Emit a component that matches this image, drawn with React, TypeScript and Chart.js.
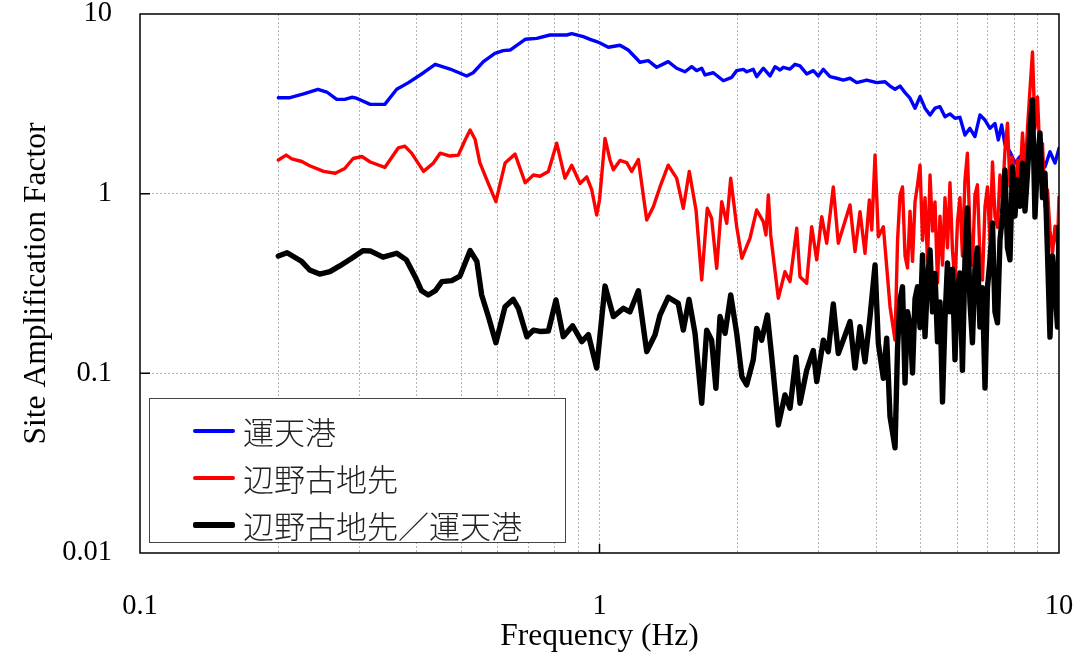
import React, { useEffect, useRef } from "react";
import { Chart, registerables } from "chart.js";

Chart.register(...registerables);

// ---- data ----
const seriesNames = ["運天港", "辺野古地先", "辺野古地先／運天港"];
const seriesColors = ["#0000ff", "#ff0000", "#000000"];
const seriesWidths = [3.4, 3.4, 5.4];

const xTickLabels = [0.1, 1, 10];
const yTickLabels = [0.01, 0.1, 1, 10];

const freqBlue = [
  0.2, 0.212, 0.227, 0.244, 0.255, 0.268, 0.279, 0.289, 0.296, 0.317, 0.341, 0.362, 0.384, 0.414, 0.439,
  0.473, 0.514, 0.531, 0.559, 0.592, 0.617, 0.639, 0.689, 0.73, 0.78, 0.849, 0.87, 0.922, 0.954, 0.986,
  1.0, 1.045, 1.108, 1.155, 1.225, 1.277, 1.332, 1.411, 1.472, 1.535, 1.587, 1.627, 1.669, 1.697, 1.769,
  1.86, 1.94, 1.989, 2.056, 2.091, 2.161, 2.198, 2.272, 2.35, 2.41, 2.471, 2.512, 2.598, 2.664, 2.731,
  2.824, 2.919, 2.994, 3.07, 3.174, 3.283, 3.393, 3.509, 3.628, 3.815, 4.012, 4.182, 4.288, 4.397, 4.508,
  4.623, 4.74, 4.86, 4.984, 5.11, 5.24, 5.372, 5.508, 5.648, 5.791, 5.938, 6.087, 6.242, 6.4, 6.562,
  6.729, 6.902, 7.076, 7.255, 7.377, 7.503, 7.629, 7.822, 8.02, 8.224, 8.433, 8.646, 8.866, 9.092, 9.322,
  9.559, 9.802, 10,
];
const ampBlue = [
  3.42, 3.42, 3.59, 3.81, 3.68, 3.35, 3.35, 3.44, 3.4, 3.14, 3.14, 3.81, 4.15, 4.71, 5.25,
  4.94, 4.52, 4.71, 5.43, 6.04, 6.25, 6.3, 7.23, 7.32, 7.64, 7.64, 7.77, 7.48, 7.23, 7.01,
  6.92, 6.53, 6.7, 6.3, 5.39, 5.5, 5.05, 5.43, 4.99, 4.77, 5.09, 4.84, 4.99, 4.58, 4.71,
  4.25, 4.44, 4.84, 4.92, 4.77, 4.92, 4.48, 4.99, 4.52, 5.09, 4.88, 5.05, 4.94, 5.25, 5.14,
  4.64, 4.84, 4.52, 4.92, 4.48, 4.39, 4.29, 4.39, 4.15, 4.29, 4.15, 4.2, 3.97, 3.81, 3.97,
  3.65, 3.4, 2.99, 3.47, 2.99, 2.74, 2.99, 3.05, 2.68, 2.78, 2.63, 2.66, 2.12, 2.31, 2.08,
  2.74, 2.57, 2.31, 2.46, 1.99, 2.41, 1.87, 1.71, 1.48, 1.61, 1.44, 1.71, 1.54, 1.64, 1.41,
  1.71, 1.48, 1.79,
];

// red and ratio series below 4.4 Hz
const freqRedLow = [
  0.2, 0.208, 0.214, 0.225, 0.234, 0.251, 0.266, 0.279, 0.291, 0.304, 0.317, 0.341, 0.365, 0.377, 0.39,
  0.414, 0.435, 0.45, 0.473, 0.493, 0.51, 0.523, 0.536, 0.549, 0.568, 0.595, 0.623, 0.655, 0.689, 0.718,
  0.742, 0.774, 0.807, 0.841, 0.87, 0.907, 0.938, 0.962, 0.986, 1.0, 1.028, 1.054, 1.072, 1.108, 1.146,
  1.175, 1.215, 1.267, 1.31, 1.354, 1.411, 1.472, 1.522, 1.568, 1.622, 1.669, 1.716, 1.754, 1.799, 1.845,
  1.892, 1.93, 1.989, 2.041, 2.126, 2.198, 2.272, 2.303, 2.33, 2.358, 2.45, 2.533, 2.598, 2.687, 2.731,
  2.824, 2.896, 2.97, 3.045, 3.122, 3.227, 3.309, 3.393, 3.509, 3.598, 3.689, 3.783, 3.866, 3.913, 3.978,
  4.044, 4.147, 4.288,
];
const ampRedLow = [
  1.54, 1.64, 1.56, 1.51, 1.43, 1.33, 1.3, 1.38, 1.57, 1.61, 1.5, 1.4, 1.8, 1.84, 1.68,
  1.33, 1.48, 1.68, 1.62, 1.64, 1.99, 2.26, 2.01, 1.49, 1.2, 0.903, 1.48, 1.66, 1.15, 1.27,
  1.25, 1.33, 1.91, 1.22, 1.44, 1.14, 1.24, 1.05, 0.761, 0.922, 2.03, 1.54, 1.36, 1.53, 1.49,
  1.33, 1.55, 0.714, 0.847, 1.09, 1.44, 1.22, 0.829, 1.33, 0.811, 0.331, 0.829, 0.73, 0.384, 0.903,
  0.684, 1.22, 0.655, 0.437, 0.565, 0.811, 0.699, 0.589, 0.983, 0.589, 0.262, 0.368, 0.324, 0.642, 0.345,
  0.317, 0.655, 0.428, 0.745, 0.53, 1.09, 0.53, 0.655, 0.865, 0.476, 0.794, 0.466, 0.922, 0.628, 1.64,
  0.576, 0.655, 0.235,
];

const freqRatioLow = [
  0.2, 0.209, 0.225, 0.234, 0.246, 0.259, 0.272, 0.289, 0.306, 0.317, 0.338, 0.362, 0.38, 0.397, 0.41,
  0.424, 0.439, 0.454, 0.477, 0.497, 0.523, 0.541, 0.554, 0.573, 0.595, 0.623, 0.649, 0.666, 0.695, 0.718,
  0.742, 0.774, 0.804, 0.834, 0.874, 0.915, 0.946, 0.986, 1.028, 1.072, 1.127, 1.165, 1.215, 1.267, 1.321,
  1.354, 1.411, 1.484, 1.522, 1.566, 1.614, 1.669, 1.711, 1.754, 1.792, 1.829, 1.876, 1.93, 1.989, 2.041,
  2.091, 2.161, 2.198, 2.254, 2.319, 2.37, 2.45, 2.533, 2.598, 2.677, 2.731, 2.824, 2.919, 2.97, 3.07,
  3.147, 3.227, 3.309, 3.393, 3.509, 3.598, 3.689, 3.783, 3.88, 3.978, 4.044, 4.147, 4.217, 4.288,
];
const ampRatioLow = [
  0.45, 0.469, 0.419, 0.376, 0.357, 0.368, 0.396, 0.437, 0.482, 0.48, 0.443, 0.466, 0.428, 0.345, 0.288,
  0.273, 0.288, 0.324, 0.328, 0.348, 0.482, 0.419, 0.273, 0.207, 0.148, 0.235, 0.258, 0.23, 0.16, 0.174,
  0.171, 0.172, 0.256, 0.16, 0.184, 0.15, 0.164, 0.107, 0.306, 0.207, 0.23, 0.22, 0.288, 0.132, 0.164,
  0.211, 0.265, 0.245, 0.174, 0.258, 0.167, 0.0682, 0.174, 0.153, 0.0826, 0.207, 0.167, 0.273, 0.167, 0.0958,
  0.0862, 0.119, 0.178, 0.153, 0.211, 0.124, 0.0516, 0.0758, 0.0639, 0.123, 0.0682, 0.104, 0.134, 0.0899, 0.153,
  0.132, 0.243, 0.129, 0.153, 0.194, 0.107, 0.182, 0.116, 0.207, 0.401, 0.147, 0.0939, 0.157, 0.0574,
];

// dense high-frequency part (4.4 – 10 Hz), shared by red and ratio series
const freqHigh = [
  4.397, 4.453, 4.508, 4.565, 4.623, 4.681, 4.74, 4.8, 4.86, 4.922, 4.984, 5.047, 5.11, 5.175, 5.24,
  5.306, 5.372, 5.44, 5.508, 5.578, 5.648, 5.719, 5.791, 5.864, 5.938, 6.013, 6.087, 6.164, 6.242, 6.32,
  6.4, 6.481, 6.562, 6.645, 6.729, 6.814, 6.902, 6.988, 7.076, 7.166, 7.255, 7.347, 7.44, 7.534, 7.629,
  7.725, 7.822, 7.921, 8.02, 8.122, 8.224, 8.328, 8.433, 8.539, 8.646, 8.756, 8.866, 8.978, 9.092, 9.206,
  9.322, 9.44, 9.559, 9.68, 9.802, 9.925, 10,
];
const ampRedHigh = [
  0.153, 0.55, 0.98, 1.09, 0.45, 0.386, 0.8, 0.42, 0.9, 1.12, 1.44, 0.55, 0.95, 0.42, 1.27,
  0.62, 0.9, 0.319, 0.75, 0.4, 0.95, 0.5, 1.15, 0.48, 0.319, 0.7, 0.95, 0.45, 1.19, 1.68,
  0.6, 0.4, 0.98, 1.12, 0.45, 0.331, 0.85, 1.09, 0.55, 1.5, 0.75, 0.65, 1.27, 0.95, 1.75,
  2.47, 1.1, 1.6, 0.95, 1.54, 1.2, 2.18, 1.3, 2.3, 3.78, 6.14, 2.3, 3.45, 1.6, 1.9,
  0.85, 1.05, 0.62, 0.468, 0.66, 0.52, 0.959,
];
const ampRatioHigh = [
  0.0385, 0.14, 0.256, 0.303, 0.0884, 0.22, 0.186, 0.1005, 0.26, 0.303, 0.18, 0.456, 0.16, 0.33, 0.486,
  0.22, 0.36, 0.15, 0.25, 0.0693, 0.2, 0.412, 0.22, 0.38, 0.119, 0.3, 0.362, 0.104, 0.428, 0.833,
  0.25, 0.148, 0.38, 0.499, 0.181, 0.3, 0.0829, 0.3, 0.428, 0.687, 0.22, 0.191, 0.55, 0.761, 1.355,
  0.5, 0.428, 1.41, 0.75, 1.2, 0.85, 1.48, 0.8, 1.3, 2.26, 3.32, 0.742, 1.54, 2.18, 0.95,
  1.3, 0.468, 0.159, 0.45, 0.3, 0.181, 0.653,
];

const SERIF = "'Liberation Serif', 'Times New Roman', serif";
const CJK = "'Noto Sans CJK JP', 'Noto Sans CJK SC', sans-serif";

const isPow10 = (v: number) => Math.abs(Math.log10(v) - Math.round(Math.log10(v))) < 1e-6;
const isIntMultiple = (v: number) => {
  const m = v / Math.pow(10, Math.floor(Math.log10(v) + 1e-9));
  return Math.abs(m - Math.round(m)) < 1e-6;
};

const zeroPad = (s: any) => {
  s.paddingTop = 0;
  s.paddingBottom = 0;
  s.paddingLeft = 0;
  s.paddingRight = 0;
};

const framePlugin = {
  id: "frame",
  afterDraw(chart: any) {
    const { ctx, chartArea: a, scales } = chart;
    ctx.save();
    ctx.strokeStyle = "#000";
    ctx.lineWidth = 1.5;
    ctx.strokeRect(a.left, a.top, a.right - a.left, a.bottom - a.top);
    ctx.beginPath();
    yTickLabels.forEach((v) => {
      const y = scales.y.getPixelForValue(v);
      if (y > a.top + 1 && y < a.bottom - 1) {
        ctx.moveTo(a.left, y);
        ctx.lineTo(a.left + 10, y);
      }
    });
    xTickLabels.forEach((v) => {
      const x = scales.x.getPixelForValue(v);
      if (x > a.left + 1 && x < a.right - 1) {
        ctx.moveTo(x, a.bottom);
        ctx.lineTo(x, a.bottom - 9);
      }
    });
    ctx.stroke();
    ctx.restore();
  },
};

export default function App() {
  const ref = useRef<HTMLCanvasElement | null>(null);

  useEffect(() => {
    if (!ref.current) return;
    const mk = (fs: number[], as: number[]) => fs.map((f, i) => ({ x: f, y: as[i] }));
    const series = [
      mk(freqBlue, ampBlue),
      mk([...freqRedLow, ...freqHigh], [...ampRedLow, ...ampRedHigh]),
      mk([...freqRatioLow, ...freqHigh], [...ampRatioLow, ...ampRatioHigh]),
    ];
    const datasets = series.map((d, i) => ({
      label: seriesNames[i],
      data: d,
      borderColor: seriesColors[i],
      backgroundColor: seriesColors[i],
      borderWidth: seriesWidths[i],
      pointRadius: 0,
      tension: 0,
      borderJoinStyle: "round" as const,
      borderCapStyle: "round" as const,
      order: 3 - i,
    }));

    const chart = new Chart(ref.current, {
      type: "line",
      data: { datasets },
      plugins: [framePlugin],
      options: {
        animation: false,
        responsive: false,
        layout: { padding: { left: 0, top: 14, right: 19, bottom: 0 }, autoPadding: false },
        plugins: { legend: { display: false }, tooltip: { enabled: false } },
        scales: {
          x: {
            type: "logarithmic",
            min: 0.1,
            max: 10,
            afterFit: (s: any) => {
              s.height = 107;
              zeroPad(s);
            },
            grid: {
              drawTicks: false,
              lineWidth: 1,
              color: (c: any) => {
                const v = c.tick && c.tick.value;
                if (!v || (isPow10(v) && (v <= 0.1 || v >= 10))) return "rgba(0,0,0,0)";
                return isIntMultiple(v) ? "#b4b4b4" : "rgba(0,0,0,0)";
              },
            },
            border: { display: false, dash: [2, 2] },
            ticks: {
              autoSkip: false,
              maxRotation: 0,
              padding: 36,
              color: "#000",
              font: { family: SERIF, size: 28.5 },
              callback: (v: any) => (xTickLabels.some((t) => Math.abs(t - Number(v)) < 1e-9) ? String(v) : ""),
            },
            title: {
              display: true,
              text: "Frequency (Hz)",
              color: "#000",
              font: { family: SERIF, size: 31.5 },
              padding: { top: 0, bottom: 4 },
            },
          },
          y: {
            type: "logarithmic",
            min: 0.01,
            max: 10,
            afterFit: (s: any) => {
              s.width = 140;
              zeroPad(s);
            },
            grid: {
              drawTicks: false,
              lineWidth: 1,
              color: (c: any) => {
                const v = c.tick && c.tick.value;
                if (!v) return "rgba(0,0,0,0)";
                return isPow10(v) && v > 0.01 && v < 10 ? "#b4b4b4" : "rgba(0,0,0,0)";
              },
            },
            border: { display: false, dash: [2, 2] },
            ticks: {
              autoSkip: false,
              padding: 28,
              color: "#000",
              font: { family: SERIF, size: 28.5 },
              callback: (v: any) => (yTickLabels.some((t) => Math.abs(t - Number(v)) < 1e-12) ? String(v) : ""),
            },
            title: {
              display: true,
              text: "Site Amplification Factor",
              color: "#000",
              font: { family: SERIF, size: 31.5 },
              padding: { top: 18, bottom: 0 },
            },
          },
        },
      },
    } as any);
    return () => chart.destroy();
  }, []);

  const legendTops = [431, 478, 525];

  return (
    <div style={{ position: "absolute", left: 0, top: 0, width: 1078, height: 660, background: "#fff" }}>
      <canvas ref={ref} width={1078} height={660} style={{ display: "block" }} />
      <div
        style={{
          position: "absolute",
          left: 149,
          top: 398,
          width: 417,
          height: 145,
          boxSizing: "border-box",
          border: "1.5px solid #444",
          background: "#fff",
        }}
      />
      {seriesNames.map((name, i) => (
        <React.Fragment key={name}>
          <div
            style={{
              position: "absolute",
              left: 193,
              width: 42,
              top: legendTops[i] - seriesWidths[i] / 2,
              height: seriesWidths[i],
              background: seriesColors[i],
              borderRadius: 2,
            }}
          />
          <div
            style={{
              position: "absolute",
              left: 243,
              top: legendTops[i] - 22,
              height: 44,
              lineHeight: "44px",
              fontFamily: CJK,
              fontSize: 31,
              fontWeight: 300,
              color: "#222",
              whiteSpace: "nowrap",
            }}
          >
            {name}
          </div>
        </React.Fragment>
      ))}
    </div>
  );
}
